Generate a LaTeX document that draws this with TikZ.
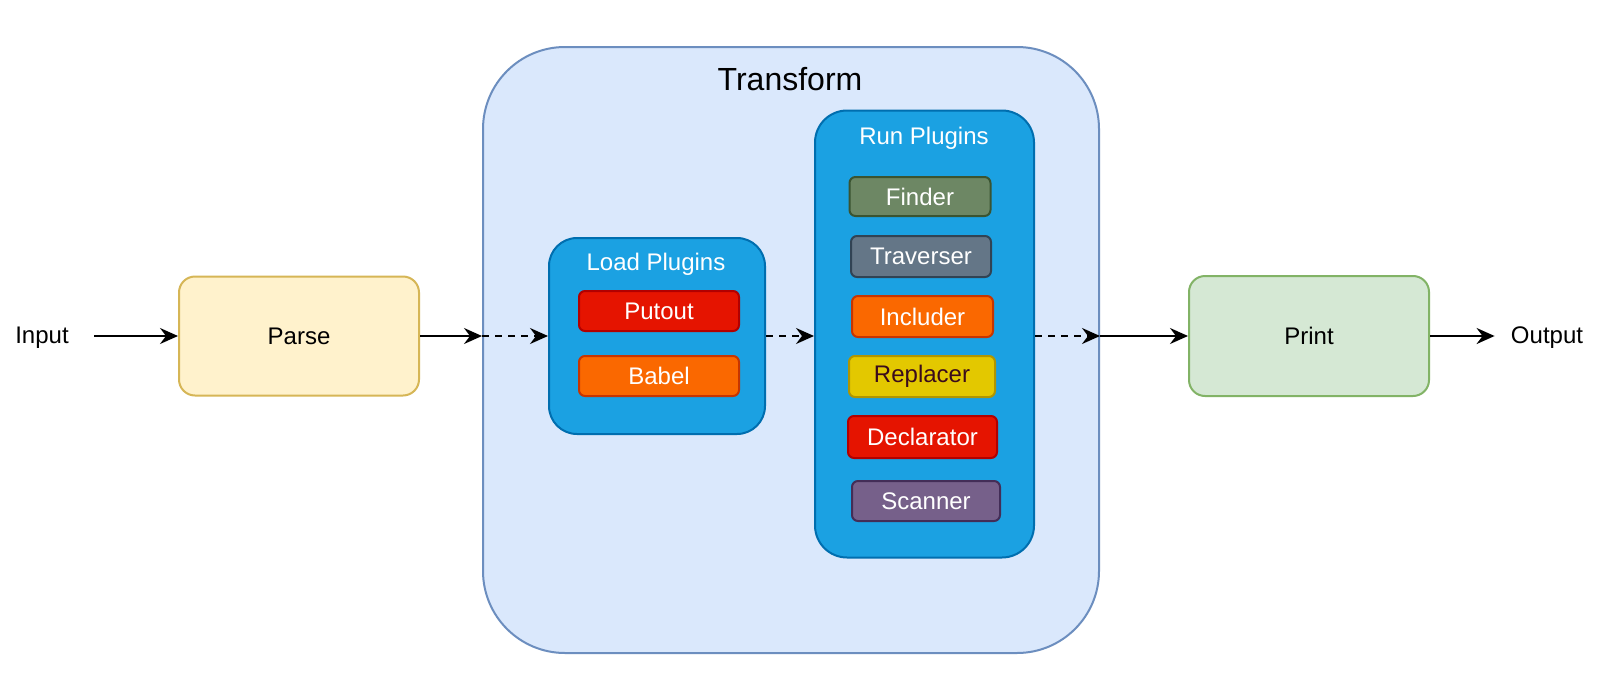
\documentclass[tikz,border=0pt]{standalone}
\usepackage{fontspec}
\setmainfont{Liberation Sans}
\usetikzlibrary{arrows.meta}
\definecolor{parsefill}{HTML}{FFF2CC}\definecolor{parsedraw}{HTML}{D6B656}
\definecolor{trfill}{HTML}{DAE8FC}\definecolor{trdraw}{HTML}{6C8EBF}
\definecolor{plfill}{HTML}{1BA1E2}\definecolor{pldraw}{HTML}{006EAF}
\definecolor{redfill}{HTML}{E51400}\definecolor{reddraw}{HTML}{B20000}
\definecolor{orfill}{HTML}{FA6800}\definecolor{ordraw}{HTML}{C73500}
\definecolor{grfill}{HTML}{6D8764}\definecolor{grdraw}{HTML}{3A5431}
\definecolor{slfill}{HTML}{647687}\definecolor{sldraw}{HTML}{314354}
\definecolor{yefill}{HTML}{E3C800}\definecolor{yedraw}{HTML}{B09500}\definecolor{yetext}{HTML}{3A0B1C}
\definecolor{vifill}{HTML}{76608A}\definecolor{vidraw}{HTML}{432D57}
\definecolor{prfill}{HTML}{D5E8D4}\definecolor{prdraw}{HTML}{82B366}
\tikzset{
  box/.style={draw, line width=1pt, inner sep=0pt, font=\fontsize{12pt}{14pt}\selectfont},
  plug/.style={box, rounded corners=3pt, minimum height=20pt, text=white},
  lbl/.style={inner sep=0pt, font=\fontsize{12pt}{14pt}\selectfont},
  arr/.style={line width=1pt, -{Stealth[length=9pt,width=8pt,inset=3pt]}},
  darr/.style={arr, dash pattern=on 3.5pt off 3pt},
}
\begin{document}
\begin{tikzpicture}[x=0.5pt,y=-0.5pt]
\useasboundingbox[fill=white] (0,0) rectangle (1600,696);
% outer boxes
\node[box, fill=trfill, draw=trdraw, rounded corners=41pt, minimum width=308pt, minimum height=303pt] (transform) at (791,350) {};
\node[lbl, font=\fontsize{16pt}{19pt}\selectfont] (transformlbl) at (790,79) {Transform};
\node[box, fill=parsefill, draw=parsedraw, rounded corners=8pt, minimum width=120pt, minimum height=59.5pt] (parse) at (299,336) {Parse};
\node[box, fill=prfill, draw=prdraw, rounded corners=8pt, minimum width=120pt, minimum height=60pt] (print) at (1309,336) {Print};
\node[lbl] (input) at (42,338) {Input};
\node[lbl] (output) at (1547,338) {Output};
% load plugins
\node[box, fill=plfill, draw=pldraw, rounded corners=14pt, minimum width=108pt, minimum height=98pt] (load) at (657,336) {};
\node[lbl, text=white] (loadlbl) at (656,264) {Load Plugins};
\node[plug, fill=redfill, draw=reddraw, minimum width=80pt] (putout) at (659,311) {Putout};
\node[plug, fill=orfill, draw=ordraw, minimum width=80pt] (babel) at (659,376) {Babel};
% run plugins
\node[box, fill=plfill, draw=pldraw, rounded corners=16pt, minimum width=109.5pt, minimum height=223.5pt] (run) at (924.5,334) {};
\node[lbl, text=white] (runlbl) at (924,138) {Run Plugins};
\node[plug, fill=grfill, draw=grdraw, minimum width=70.5pt, minimum height=19.5pt] (finder) at (920,196.5) {Finder};
\node[plug, fill=slfill, draw=sldraw, minimum width=70pt, minimum height=20.5pt] (traverser) at (921,256.5) {Traverser};
\node[plug, fill=orfill, draw=ordraw, minimum width=70.5pt, minimum height=20.5pt] (includer) at (922.5,316.5) {Includer};
\node[plug, fill=yefill, draw=yedraw, minimum width=73pt, minimum height=20.5pt, text=yetext] (replacer) at (922,376.5) {Replacer};
\node[plug, fill=redfill, draw=reddraw, minimum width=74.5pt, minimum height=21pt] (declarator) at (922.5,437) {Declarator};
\node[plug, fill=vifill, draw=vidraw, minimum width=74pt, minimum height=20pt] (scanner) at (926,501) {Scanner};
% connectors
\coordinate (tin) at (parse.east -| transform.west);
\coordinate (tout) at (parse.east -| transform.east);
\coordinate (instart) at ([xshift=12.5pt]parse.west -| input.east);
\coordinate (outend) at ([xshift=-8pt]print.east -| output.west);
\draw[arr] (instart) -- (parse.west);
\draw[arr] (parse.east) -- (tin);
\draw[darr] (tin) -- (load.west);
\draw[darr] (load.east) -- (load.east -| run.west);
\draw[darr] (load.east -| run.east) -- (tout);
\draw[arr] (tout) -- (print.west);
\draw[arr] (print.east) -- (outend);
\end{tikzpicture}
\end{document}
